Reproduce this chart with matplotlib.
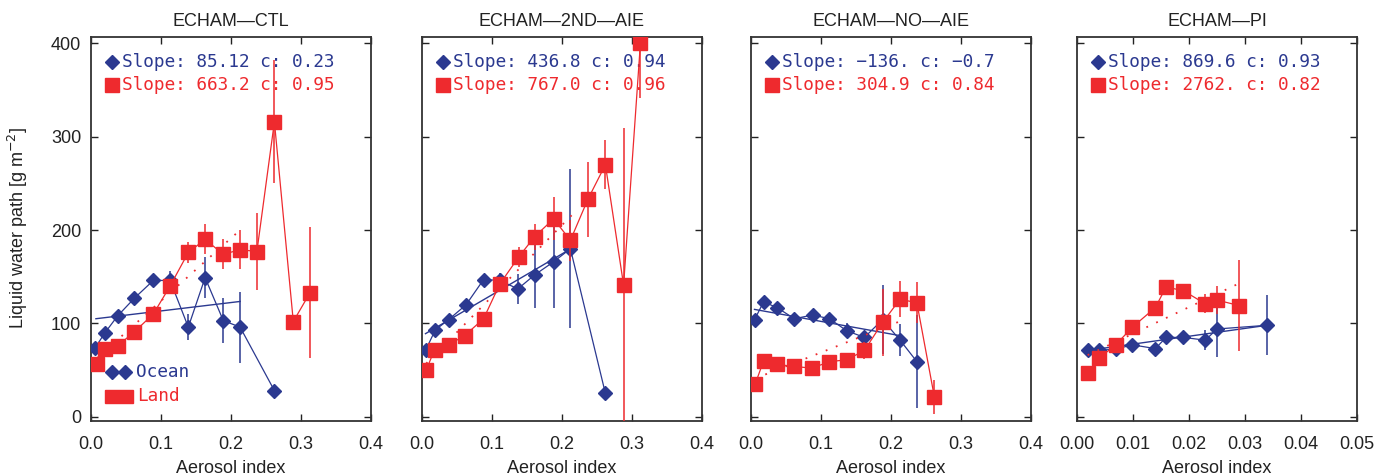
import matplotlib
matplotlib.use("Agg")
import matplotlib.pyplot as plt
from matplotlib.patches import Rectangle

BLUE = "#2B3990"
RED = "#EE2A2E"
SPINE = "#333333"

titles = ["ECHAM\u2014CTL", "ECHAM\u20142ND\u2014AIE", "ECHAM\u2014NO\u2014AIE", "ECHAM\u2014PI"]

# --- CTL ---
ctl_ocean_x = [0.006, 0.020, 0.038, 0.062, 0.089, 0.113, 0.139, 0.163, 0.189, 0.213, 0.262]
ctl_ocean_y = [74, 90, 108, 127, 146, 146, 96, 149, 103, 96, 28]
ctl_ocean_e = [3, 3, 3, 3, 3, 10, 14, 22, 24, 38, 3]
ctl_land_x = [0.009, 0.020, 0.038, 0.062, 0.089, 0.113, 0.139, 0.163, 0.189, 0.213, 0.237, 0.262, 0.289, 0.313]
ctl_land_y = [56, 73, 76, 91, 110, 140, 176, 190, 174, 179, 177, 316, 102, 133]
ctl_land_e = [3, 3, 3, 3, 3, 5, 11, 16, 16, 21, 41, 66, 3, 70]
ctl_fit_ocean = ([0.007, 0.213], [105, 123.5])
ctl_fit_land = ([0.009, 0.213], [63, 200])

# --- 2ND AIE ---
snd_ocean_x = [0.005, 0.019, 0.038, 0.063, 0.088, 0.111, 0.137, 0.161, 0.188, 0.212, 0.262]
snd_ocean_y = [71, 93, 104, 120, 147, 146, 137, 152, 166, 180, 25]
snd_ocean_e = [3, 3, 3, 3, 3, 8, 16, 36, 50, 85, 3]
snd_land_x = [0.006, 0.018, 0.038, 0.061, 0.088, 0.111, 0.138, 0.161, 0.188, 0.212, 0.237, 0.262, 0.288, 0.312]
snd_land_y = [50, 72, 77, 87, 105, 142, 171, 193, 212, 189, 233, 270, 141, 400]
snd_land_e = [3, 3, 3, 3, 3, 3, 11, 14, 23, 22, 40, 26, 168, 59]
snd_fit_ocean = ([0.005, 0.215], [89, 181])
snd_fit_land = ([0.006, 0.214], [57, 216])

# --- NO AIE ---
no_ocean_x = [0.005, 0.018, 0.037, 0.062, 0.088, 0.112, 0.137, 0.162, 0.188, 0.213, 0.237]
no_ocean_y = [104, 123, 117, 105, 109, 105, 92, 85, 104, 82, 59]
no_ocean_e = [3, 3, 3, 3, 3, 3, 8, 7, 37, 17, 50]
no_land_x = [0.006, 0.018, 0.037, 0.061, 0.087, 0.112, 0.137, 0.162, 0.188, 0.213, 0.237, 0.262]
no_land_y = [35, 60, 56, 54, 52, 59, 61, 71, 101, 126, 122, 21]
no_land_e = [3, 3, 3, 3, 3, 3, 3, 9, 36, 19, 22, 18]
no_fit_ocean = ([0.005, 0.212], [115, 87])
no_fit_land = ([0.006, 0.212], [41, 102])

# --- PI ---
pi_ocean_x = [0.0019, 0.0039, 0.0069, 0.0099, 0.0140, 0.0159, 0.0190, 0.0229, 0.0250, 0.0340]
pi_ocean_y = [71, 71, 72.5, 77, 73, 85, 85, 82, 94, 98]
pi_ocean_e = [2, 2, 2, 2, 2, 2, 2, 11, 30, 32]
pi_land_x = [0.0019, 0.0039, 0.0069, 0.0099, 0.0140, 0.0159, 0.0190, 0.0229, 0.0250, 0.0290]
pi_land_y = [47, 62.5, 77, 96, 117, 139, 135, 121, 125, 119]
pi_land_e = [2, 2, 2, 2, 2, 2, 2, 10, 15, 49]
pi_fit_ocean = ([0.0019, 0.034], [71, 98])
pi_fit_land = ([0.0019, 0.029], [66, 143])

slope_ocean = ["Slope: 85.12 c: 0.23", "Slope: 436.8 c: 0.94", "Slope: \u2212136. c: \u22120.7", "Slope: 869.6 c: 0.93"]
slope_land = ["Slope: 663.2 c: 0.95", "Slope: 767.0 c: 0.96", "Slope: 304.9 c: 0.84", "Slope: 2762. c: 0.82"]

panels = [
    (ctl_ocean_x, ctl_ocean_y, ctl_ocean_e, ctl_land_x, ctl_land_y, ctl_land_e, ctl_fit_ocean, ctl_fit_land),
    (snd_ocean_x, snd_ocean_y, snd_ocean_e, snd_land_x, snd_land_y, snd_land_e, snd_fit_ocean, snd_fit_land),
    (no_ocean_x, no_ocean_y, no_ocean_e, no_land_x, no_land_y, no_land_e, no_fit_ocean, no_fit_land),
    (pi_ocean_x, pi_ocean_y, pi_ocean_e, pi_land_x, pi_land_y, pi_land_e, pi_fit_ocean, pi_fit_land),
]

xmax = [0.4, 0.4, 0.4, 0.05]
xticks = [[0.0, 0.1, 0.2, 0.3, 0.4]] * 3 + [[0.0, 0.01, 0.02, 0.03, 0.04, 0.05]]
xfmt = ["{:.1f}"] * 3 + ["{:.2f}"]

plt.rcParams['font.family'] = ['Liberation Sans', 'DejaVu Sans']
MONO = ['DejaVu Sans Mono']

fig = plt.figure(figsize=(13.92, 4.76), dpi=100)
lefts = [91, 422, 751, 1077]

for i, (ox, oy, oe, lx, ly, le, fo, fl) in enumerate(panels):
    ax = fig.add_axes([lefts[i] / 1392, 0.1155, 280 / 1392, 0.8067])
    ax.errorbar(ox, oy, yerr=oe, fmt='none', ecolor=BLUE, elinewidth=1.1, capsize=0, zorder=2)
    ax.plot(ox, oy, color=BLUE, lw=0.9, marker='D', ms=7.5, mec=BLUE, mfc=BLUE, zorder=3)
    ax.plot(fo[0], fo[1], color=BLUE, lw=1.0, zorder=3)
    ax.errorbar(lx, ly, yerr=le, fmt='none', ecolor=RED, elinewidth=1.1, capsize=0, zorder=4)
    ax.plot(lx, ly, color=RED, lw=0.9, marker='s', ms=10, mec=RED, mfc=RED, zorder=5)
    ax.plot(fl[0], fl[1], color=RED, lw=1.3, ls=(0, (1, 5)), zorder=5)

    ax.set_xlim(0, xmax[i])
    ax.set_ylim(-4.6, 406.8)
    ax.set_xticks(xticks[i])
    ax.set_xticklabels([xfmt[i].format(v) for v in xticks[i]])
    ax.set_yticks([0, 100, 200, 300, 400])
    if i > 0:
        ax.set_yticklabels([])
    ax.tick_params(direction='in', length=5, width=1, top=True, right=True,
                   labelsize=13, colors='#222222')
    ax.tick_params(axis='x', pad=11)
    ax.tick_params(axis='y', pad=7)
    for s in ax.spines.values():
        s.set_color(SPINE)
        s.set_linewidth(1.3)
    ax.set_title(titles[i], fontsize=13, pad=8, color='#222222')
    ax.set_xlabel("Aerosol index", fontsize=13, labelpad=5, color='#222222')

    # slope annotations
    ax.plot([0.075], [0.935], marker='D', ms=7.5, color=BLUE, transform=ax.transAxes, clip_on=False)
    ax.text(0.112, 0.935, slope_ocean[i], transform=ax.transAxes, color=BLUE,
            family=MONO, fontsize=12.8, va='center', ha='left')
    ax.plot([0.075], [0.875], marker='s', ms=10, color=RED, transform=ax.transAxes, clip_on=False)
    ax.text(0.112, 0.875, slope_land[i], transform=ax.transAxes, color=RED,
            family=MONO, fontsize=12.8, va='center', ha='left')

    if i == 0:
        ax.plot([0.075, 0.121], [0.128, 0.128], color=BLUE, lw=1, marker='D', ms=7.5,
                transform=ax.transAxes, zorder=6)
        ax.text(0.162, 0.128, "Ocean", transform=ax.transAxes, color=BLUE,
                family=MONO, fontsize=12.8, va='center', ha='left')
        ax.add_patch(Rectangle((0.05, 0.047), 0.10, 0.034, transform=ax.transAxes,
                               color=RED, zorder=6))
        ax.text(0.166, 0.066, "Land", transform=ax.transAxes, color=RED,
                family=MONO, fontsize=12.8, va='center', ha='left')

fig.text(18 / 1392, 1 - 228 / 476, "Liquid water path [g m$^{-2}$]", rotation=90,
         va='center', ha='center', fontsize=13, color='#222222')

fig.savefig("out.png", dpi=100)
